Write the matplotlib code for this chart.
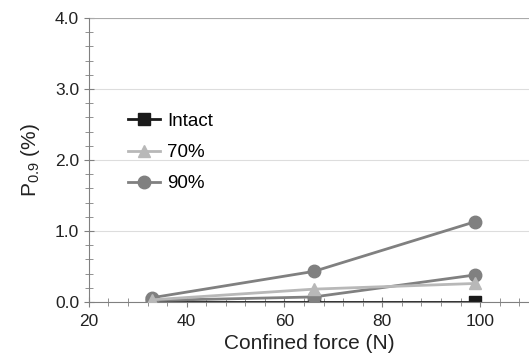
import matplotlib
matplotlib.use("Agg")
import matplotlib.pyplot as plt
from matplotlib.ticker import MultipleLocator, FormatStrFormatter

plt.rcParams["font.family"] = ["Liberation Sans", "DejaVu Sans"]
plt.rcParams["mathtext.default"] = "regular"

force = [33, 66, 99]
intact = [0.0, 0.0, 0.0]
damage_70 = [0.03, 0.18, 0.26]
damage_90 = [0.06, 0.43, 1.13]
damage_90b = [0.02, 0.07, 0.38]

fig = plt.figure(figsize=(5.29, 3.59), dpi=100)
ax = fig.add_axes([0.168, 0.159, 0.832, 0.791])

ax.plot(force, damage_90, color="#808080", lw=2, marker="o", ms=9, label="90%", zorder=3)
ax.plot(force, damage_90b, color="#808080", lw=2, marker="o", ms=9, zorder=3)
ax.plot(force, damage_70, color="#b8b8b8", lw=2, marker="^", ms=9, label="70%", zorder=4)
ax.plot(force, intact, color="#1a1a1a", lw=2, marker="s", ms=8, label="Intact", zorder=2)

ax.set_xlim(20, 110)
ax.set_ylim(0, 4.0)
ax.xaxis.set_major_locator(MultipleLocator(20))
ax.xaxis.set_minor_locator(MultipleLocator(4))
ax.yaxis.set_major_locator(MultipleLocator(1.0))
ax.yaxis.set_minor_locator(MultipleLocator(0.2))
ax.yaxis.set_major_formatter(FormatStrFormatter("%.1f"))
ax.tick_params(which="both", direction="inout", color="#808080", labelsize=12.5, labelcolor="#222222")
ax.tick_params(which="major", length=7)
ax.tick_params(which="minor", length=6)
ax.tick_params(axis="x", pad=5)
ax.grid(axis="y", which="major", color="#dddddd", lw=0.8)
ax.axhline(4.0, color="#aaaaaa", lw=0.8)

for s in ["top", "right"]:
    ax.spines[s].set_visible(False)
for s in ["left", "bottom"]:
    ax.spines[s].set_color("#808080")
ax.set_axisbelow(True)

ax.set_xlabel("Confined force (N)", fontsize=15, color="#222222", labelpad=4)
ax.set_ylabel(r"P$_{0.9}$ (%)", fontsize=15, color="#222222", labelpad=9)

handles, labels = ax.get_legend_handles_labels()
order = [2, 1, 0]
ax.legend([handles[i] for i in order], [labels[i] for i in order],
          loc="upper left", bbox_to_anchor=(0.05, 0.725), frameon=False,
          fontsize=13.5, handlelength=1.7, labelspacing=0.75, handletextpad=0.4)

fig.savefig("out.png", dpi=100)
